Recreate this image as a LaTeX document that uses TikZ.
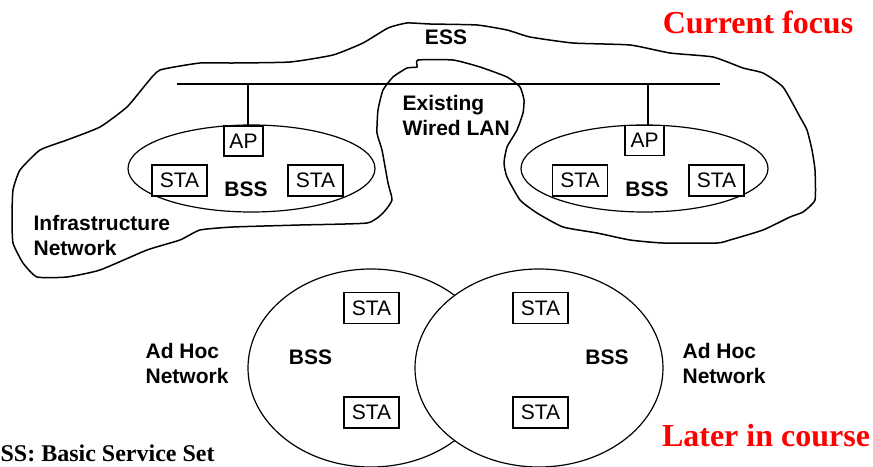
\documentclass[tikz,border=0pt]{standalone}
\usepackage{fontspec}
\setmainfont{Liberation Sans}
\newfontfamily\timesfont{Liberation Serif}
\usetikzlibrary{shapes.geometric}

\begin{document}
\begin{tikzpicture}[x=0.5pt,y=-0.5pt,line width=0.6pt,
    box/.style={draw,fill=white,inner sep=0pt,minimum height=15.5pt,font=\fontsize{10.5}{12.5}\selectfont},
    sta/.style={box,minimum width=27.5pt},
    ap/.style={box,minimum width=19.5pt,minimum height=15pt},
    bss/.style={ellipse,draw,fill=white,inner sep=0pt},
    lbl/.style={inner sep=0pt,align=left,font=\fontsize{10.5}{12.5}\selectfont\bfseries},
    note/.style={inner sep=0pt,text=red,font=\timesfont\fontsize{16}{19}\selectfont\bfseries}]

    \useasboundingbox (0,0) rectangle (873,466);

    % ESS outline
    \draw[line width=0.75pt] plot[smooth cycle,tension=0.3] coordinates {
        (147,83) (160,70) (200,63) (233,63) (290,62) (333,55) (363,43) (388,28)
        (407,23) (430,24) (477,25) (507,30) (530,37) (573,43) (630,45) (670,53)
        (713,57) (743,68) (763,73) (783,87) (800,117) (807,130) (812,150) (815,170)
        (815,200) (803,212) (790,217) (763,230) (730,240) (717,243) (663,243) (630,240)
        (597,233) (563,227) (537,213) (520,200) (507,177) (504,163) (507,147) (517,130)
        (523,113) (524,100) (520,87) (507,77) (480,67) (453,60) (418,60) (417,67)
        (407,68) (393,77) (383,90) (378,110) (377,133) (382,150) (388,183) (392,200)
        (383,213) (367,223) (300,225) (233,227) (200,230) (180,240) (147,250) (100,270)
        (67,277) (37,277) (23,263) (13,243) (12,217) (13,190) (20,170) (40,150)
        (67,140) (100,127) (127,107)};

    % wired LAN
    \coordinate (busL) at (177,84);
    \coordinate (busR) at (720,84);
    \coordinate (tapL) at (248,84);
    \coordinate (tapR) at (648,84);
    \draw (busL) -- (busR);

    % infrastructure BSSs
    \node[bss,minimum width=123.5pt,minimum height=43.5pt] (bssL) at (251.5,168.5) {};
    \node[bss,minimum width=123.5pt,minimum height=43.5pt] (bssR) at (644.5,168.5) {};
    \node[ap] (apL) at (243.5,141) {AP};
    \node[ap] (apR) at (644.5,140.5) {AP};
    \node[sta] (sL1) at (179.5,180.5) {STA};
    \node[sta] (sL2) at (315.5,180.5) {STA};
    \node[sta] (sR1) at (580,180.5) {STA};
    \node[sta] (sR2) at (716.5,180.5) {STA};
    \node[lbl] (tL) at (246,189) {BSS};
    \node[lbl] (tR) at (647,189.5) {BSS};
    \draw (tapL) -- (tapL |- apL.north);
    \draw (tapR) -- (tapR |- apR.north);

    % ad hoc BSSs
    \node[bss,minimum width=123pt,minimum height=99pt] (adL) at (371,368) {};
    \node[bss,minimum width=124pt,minimum height=99pt] (adR) at (539,368) {};
    \node[sta] (a1) at (371.5,308) {STA};
    \node[sta] (a2) at (371.5,412.5) {STA};
    \node[sta] (b1) at (540.5,308) {STA};
    \node[sta] (b2) at (540.5,412.5) {STA};
    \node[lbl] (tA) at (310.5,357.5) {BSS};
    \node[lbl] (tB) at (607,357.5) {BSS};

    % labels
    \node[lbl] (ess) at (446,37.5) {ESS};
    \node[lbl,anchor=west] (lan) at (402,115) {Existing\\Wired LAN};
    \node[lbl,anchor=west] (infra) at (33,235) {Infrastructure\\Network};
    \node[lbl,anchor=west] (adhocL) at (145,363) {Ad Hoc\\Network};
    \node[lbl,anchor=west] (adhocR) at (682,363) {Ad Hoc\\Network};
    \node[note] (now) at (758,22.5) {Current focus};
    \node[note] (later) at (766,436) {Later in course};
    \node[inner sep=0pt,anchor=west,font=\timesfont\fontsize{12}{14}\selectfont\bfseries] (key) at (0,453.5) {SS: Basic Service Set};
\end{tikzpicture}
\end{document}
